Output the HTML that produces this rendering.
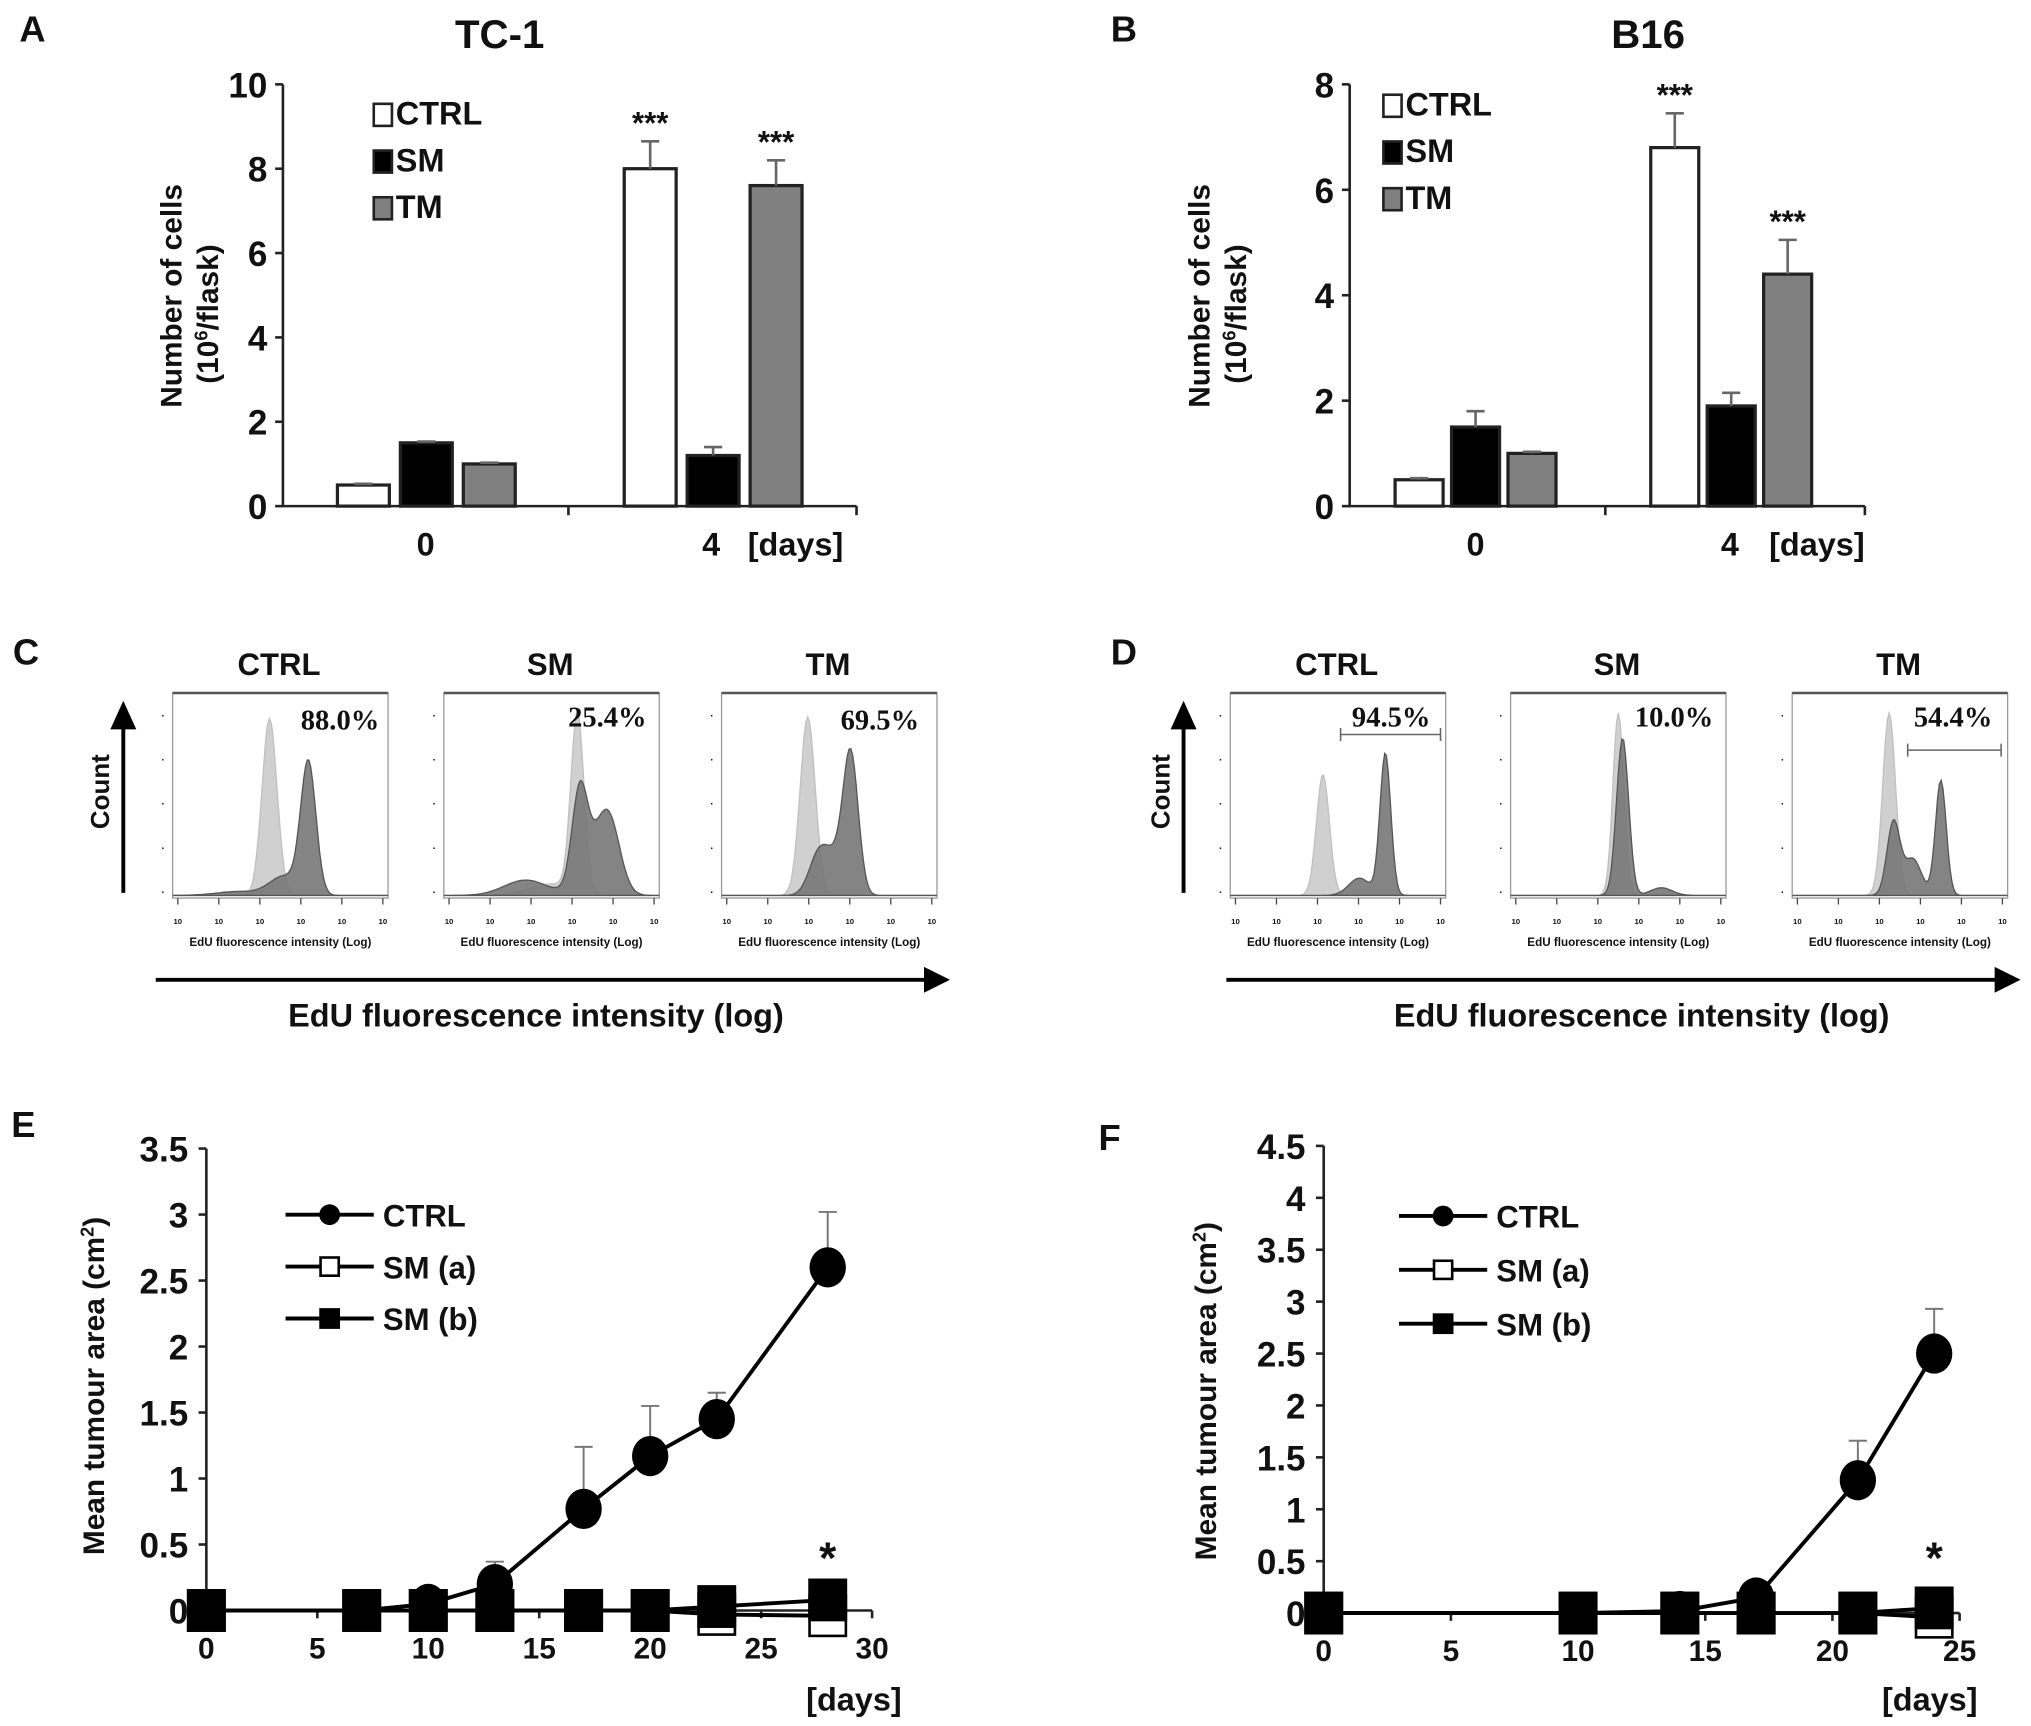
<!DOCTYPE html>
<html><head><meta charset="utf-8"><style>
html,body{margin:0;padding:0;background:#fff}
svg{display:block}
text{font-family:"Liberation Sans",sans-serif;font-weight:bold;fill:#111}
</style></head><body>
<svg id="fig" width="2031" height="1726" viewBox="0 0 1565 1330" xmlns="http://www.w3.org/2000/svg">
<rect width="1565" height="1330" fill="#fff"/>
</svg>
<script>
// ---- data ----
const barGroups = ["0", "4"];
const barSeries = ["CTRL", "SM", "TM"];
const tc1Ctrl = [0.5, 8.0];
const tc1Sm = [1.5, 1.2];
const tc1Tm = [1.0, 7.6];
const tc1CtrlErr = [0.03, 0.65];
const tc1SmErr = [0.03, 0.2];
const tc1TmErr = [0.03, 0.6];
const tc1Ticks = [0, 2, 4, 6, 8, 10];
const b16Ctrl = [0.5, 6.8];
const b16Sm = [1.5, 1.9];
const b16Tm = [1.0, 4.4];
const b16CtrlErr = [0.03, 0.65];
const b16SmErr = [0.3, 0.25];
const b16TmErr = [0.03, 0.65];
const b16Ticks = [0, 2, 4, 6, 8];

const eDays = [0, 7, 10, 13, 17, 20, 23, 28];
const eCtrl = [0, 0, 0.05, 0.2, 0.77, 1.17, 1.45, 2.6];
const eCtrlErr = [0, 0, 0, 0.17, 0.47, 0.38, 0.2, 0.42];
const eSmA = [0, 0, 0, 0, 0, 0, -0.03, -0.04];
const eSmB = [0, 0, 0, 0, 0, 0, 0.03, 0.08];
const eSmBErr = [0, 0, 0, 0, 0, 0, 0, 0.06];
const eYTicks = [0, 0.5, 1, 1.5, 2, 2.5, 3, 3.5];
const eXTicks = [0, 5, 10, 15, 20, 25, 30];

const fDays = [0, 10, 14, 17, 21, 24];
const fCtrl = [0, 0, 0.02, 0.15, 1.28, 2.5];
const fCtrlErr = [0, 0, 0, 0, 0.38, 0.43];
const fSmA = [0, 0, 0, 0, 0, -0.04];
const fSmB = [0, 0, 0, 0, 0, 0.05];
const fYTicks = [0, 0.5, 1, 1.5, 2, 2.5, 3, 3.5, 4, 4.5];
const fXTicks = [0, 5, 10, 15, 20, 25];

// flow histogram components: [centre fraction, height fraction, width fraction]
const cCtrlLight = [[0.45, 0.92, 0.035]];
const cCtrlDark = [[0.63, 0.68, 0.035], [0.52, 0.1, 0.07], [0.3, 0.02, 0.1]];
const cSmLight = [[0.62, 0.93, 0.03], [0.5, 0.06, 0.1]];
const cSmDark = [[0.63, 0.45, 0.035], [0.77, 0.3, 0.05], [0.7, 0.22, 0.07], [0.38, 0.08, 0.1]];
const cTmLight = [[0.4, 0.93, 0.035]];
const cTmDark = [[0.6, 0.7, 0.035], [0.45, 0.2, 0.045], [0.53, 0.17, 0.05]];
const dCtrlLight = [[0.43, 0.63, 0.03]];
const dCtrlDark = [[0.72, 0.74, 0.025], [0.6, 0.09, 0.05]];
const dSmLight = [[0.5, 0.95, 0.025]];
const dSmDark = [[0.52, 0.82, 0.028], [0.7, 0.04, 0.05]];
const dTmLight = [[0.45, 0.95, 0.03]];
const dTmDark = [[0.47, 0.38, 0.03], [0.56, 0.19, 0.04], [0.69, 0.6, 0.025]];
const cPct = ["88.0%", "25.4%", "69.5%"];
const dPct = ["94.5%", "10.0%", "54.4%"];
const flowTitles = ["CTRL", "SM", "TM"];

// ---- helpers ----
const NS = "http://www.w3.org/2000/svg";
const svg = document.getElementById("fig");
function mk(tag, attrs, parent) {
  const e = document.createElementNS(NS, tag);
  for (const k in attrs) e.setAttribute(k, attrs[k]);
  (parent || svg).appendChild(e);
  return e;
}
function txt(s, x, y, size, anchor, parent, extra) {
  const e = mk("text", Object.assign({x: x, y: y, "font-size": size, "text-anchor": anchor || "middle"}, extra || {}), parent);
  e.textContent = s;
  return e;
}

[["A", 25, 32], ["B", 866, 32], ["C", 20, 512], ["D", 866, 512], ["E", 18, 876], ["F", 855, 886]].forEach(p => {
  const t = txt(p[0], p[1], p[2], 28, "middle");
  
  
});

// ---- bar charts ----
function barChart(cfg) {
  const g = mk("g", {});
  
  
  const y = v => cfg.y0 - (v / cfg.ymax) * (cfg.y0 - cfg.y1);
  const t = txt(cfg.title, cfg.titleX, 37, 31, "middle", g);
  
  
  const ax = mk("path", {d: `M${cfg.ax} ${cfg.y1}V${cfg.y0}H${cfg.xEnd}`, stroke: "#222", "stroke-width": 2, fill: "none"}, g);
  
  
  cfg.ticks.forEach(v => {
    mk("line", {x1: cfg.ax - 6, x2: cfg.ax, y1: y(v), y2: y(v), stroke: "#222", "stroke-width": 2}, g);
    const l = txt(String(v), cfg.ax - 12, y(v) + 10, 27, "end", g);
    
    
  });
  [cfg.midTick, cfg.xEnd].forEach(x => mk("line", {x1: x, x2: x, y1: cfg.y0, y2: cfg.y0 + 7, stroke: "#222", "stroke-width": 2}, g));
  const yl = mk("g", {transform: `translate(${cfg.ylX},228) rotate(-90)`}, g);
  
  
  txt("Number of cells", 0, 0, 23, "middle", yl);
  const t2 = txt("(10", -14, 28, 23, "middle", yl);
  const sp = mk("tspan", {"font-size": 14, dy: -8}, t2); sp.textContent = "6";
  const sp2 = mk("tspan", {dy: 8}, t2); sp2.textContent = "/flask)";
  const fills = ["#fff", "#000", "#808080"];
  const vals = [cfg.ctrl, cfg.sm, cfg.tm];
  const errs = [cfg.ctrlErr, cfg.smErr, cfg.tmErr];
  barGroups.forEach((grp, gi) => {
    const gl = txt(grp, cfg.groupX[gi], cfg.y0 + 38, 25, "middle", g);
    
    
    barSeries.forEach((s, si) => {
      const x = cfg.barX[gi] + si * cfg.step;
      const v = vals[si][gi];
      const r = mk("rect", {x: x, y: y(v), width: cfg.bw, height: cfg.y0 - y(v), fill: fills[si], stroke: "#222", "stroke-width": 2.5}, g);
      
      
      const e = errs[si][gi];
      const cx = x + cfg.bw / 2;
      mk("path", {d: `M${cx} ${y(v)}V${y(v + e)}M${cx - 7} ${y(v + e)}H${cx + 7}`, stroke: "#666", "stroke-width": 2}, g);
      if (gi === 1 && si !== 1) {
        const st = txt("***", cx, y(v + e) - 6, 24, "middle", g, {"font-weight": "normal"});
        
        
      }
    });
  });
  const dl = txt("[days]", cfg.daysX, cfg.y0 + 38, 25, "middle", g);
  
  
  barSeries.forEach((s, si) => {
    const ly = cfg.legY + si * 36;
    const lg = mk("g", {}, g);
    
    
    mk("rect", {x: cfg.legX, y: ly - 15, width: 14, height: 17, fill: fills[si], stroke: "#222", "stroke-width": 2}, lg);
    txt(s, cfg.legX + 17, ly + 1, 25, "start", lg);
  });
}
barChart({name: "chart-a-tc1", title: "TC-1", titleX: 385, ax: 218, y0: 390, y1: 65, ymax: 10, xEnd: 660, midTick: 438,
  ticks: tc1Ticks, ctrl: tc1Ctrl, sm: tc1Sm, tm: tc1Tm, ctrlErr: tc1CtrlErr, smErr: tc1SmErr, tmErr: tc1TmErr,
  barX: [260, 481], step: 48.5, bw: 40, groupX: [328, 548], daysX: 613, ylX: 140, legX: 288, legY: 95});
barChart({name: "chart-b-b16", title: "B16", titleX: 1270, ax: 1040, y0: 390, y1: 65, ymax: 8, xEnd: 1437, midTick: 1237,
  ticks: b16Ticks, ctrl: b16Ctrl, sm: b16Sm, tm: b16Tm, ctrlErr: b16CtrlErr, smErr: b16SmErr, tmErr: b16TmErr,
  barX: [1075, 1272], step: 43.5, bw: 37, groupX: [1137, 1333], daysX: 1400, ylX: 932, legX: 1066, legY: 88});

// ---- flow histograms ----
function curve(comps, x0, w, yb, h) {
  let d = `M${x0} ${yb}`;
  for (let i = 0; i <= 120; i++) {
    const f = i / 120;
    let v = 0;
    comps.forEach(c => { v += c[1] * Math.exp(-Math.pow((f - c[0]) / c[2], 2) / 2); });
    d += `L${(x0 + f * w).toFixed(1)} ${(yb - Math.min(v, 1) * h).toFixed(1)}`;
  }
  return d + `L${x0 + w} ${yb}Z`;
}
function flowRow(cfg) {
  const g = mk("g", {});
  
  
  cfg.boxes.forEach((bx, i) => {
    const pg = mk("g", {}, g);
    
    
    const tt = txt(flowTitles[i], bx + 82, 520, 24, "middle", pg);
    
    
    const top = 534, bot = 692, w = 166;
    mk("rect", {x: bx, y: top, width: w, height: bot - top, fill: "#fff", stroke: "#999", "stroke-width": 1}, pg);
    mk("line", {x1: bx, x2: bx + w, y1: top, y2: top, stroke: "#555", "stroke-width": 2}, pg);
    const pl = mk("path", {d: curve(cfg.light[i], bx, w, bot - 2, bot - top - 10), fill: "#d0d0d0", stroke: "#c0c0c0", "stroke-width": 1}, pg);
    
    
    const pd = mk("path", {d: curve(cfg.dark[i], bx, w, bot - 2, bot - top - 10), fill: "#777", "fill-opacity": 0.9, stroke: "#555", "stroke-width": 1}, pg);
    
    
    for (let k = 0; k < 6; k++) {
      const tx = bx + 4 + k * (w - 8) / 5;
      mk("line", {x1: tx, x2: tx, y1: bot, y2: bot + 5, stroke: "#444", "stroke-width": 1}, pg);
      txt("10", tx, bot + 20, 6, "middle", pg);
    }
    for (let k = 0; k < 5; k++) txt("·", bx - 6, bot - 2 - k * 34, 8, "end", pg);
    const xl = txt("EdU fluorescence intensity (Log)", bx + w / 2, bot + 37, 9, "middle", pg, {"font-family": "Liberation Serif"});
    
    
    const p = cfg.pct[i];
    const pt = txt(p[0], p[1], p[2], 22, "middle", pg, {style: "font-family:'Liberation Serif',serif"});
    
    
    if (p[3]) mk("path", {d: `M${p[3]} ${p[5]}H${p[4]}M${p[3]} ${p[5] - 5}v10M${p[4]} ${p[5] - 5}v10`, stroke: "#666", "stroke-width": 1.2}, pg);
  });
  const ca = mk("g", {}, g);
  
  
  mk("line", {x1: cfg.cx, x2: cfg.cx, y1: 688, y2: 560, stroke: "#000", "stroke-width": 3}, ca);
  mk("path", {d: `M${cfg.cx - 10} 562L${cfg.cx} 540L${cfg.cx + 10} 562Z`, fill: "#000"}, ca);
  const cl = mk("g", {transform: `translate(${cfg.cx - 11},610) rotate(-90)`}, ca);
  txt("Count", 0, 0, 20, "middle", cl);
  const ha = mk("g", {}, g);
  
  
  mk("line", {x1: cfg.ax0, x2: cfg.ax1 - 16, y1: 755, y2: 755, stroke: "#000", "stroke-width": 3}, ha);
  mk("path", {d: `M${cfg.ax1 - 20} 745L${cfg.ax1} 755L${cfg.ax1 - 20} 765Z`, fill: "#000"}, ha);
  const hl = txt("EdU fluorescence intensity (log)", cfg.labelX, 791, 25, "middle", ha);
  
  
}
flowRow({name: "panel-c-flow", boxes: [133, 342, 556], light: [cCtrlLight, cSmLight, cTmLight], dark: [cCtrlDark, cSmDark, cTmDark],
  pct: [[cPct[0], 262, 562], [cPct[1], 468, 560], [cPct[2], 678, 562]], cx: 95, ax0: 120, ax1: 732, labelX: 413});
flowRow({name: "panel-d-flow", boxes: [948, 1164, 1381], light: [dCtrlLight, dSmLight, dTmLight], dark: [dCtrlDark, dSmDark, dTmDark],
  pct: [[dPct[0], 1072, 560, 1033, 1110, 566], [dPct[1], 1290, 560], [dPct[2], 1505, 560, 1470, 1542, 578]], cx: 912, ax0: 945, ax1: 1557, labelX: 1265});

// ---- line charts ----
function lineChart(cfg) {
  const g = mk("g", {});
  
  
  const x = d => cfg.x0 + d * cfg.xs;
  const y = v => cfg.y0 - v * cfg.ys;
  const yMax = cfg.yTicks[cfg.yTicks.length - 1];
  const xMax = cfg.xTicks[cfg.xTicks.length - 1];
  const ax = mk("path", {d: `M${x(0)} ${y(yMax)}V${y(0)}H${x(xMax)}`, stroke: "#222", "stroke-width": 2, fill: "none"}, g);
  
  
  cfg.yTicks.forEach(v => {
    mk("line", {x1: x(0) - 6, x2: x(0), y1: y(v), y2: y(v), stroke: "#222", "stroke-width": 2}, g);
    const l = txt(String(v), x(0) - 14, y(v) + 10, 27, "end", g);
    
    
  });
  cfg.xTicks.forEach(v => {
    mk("line", {x1: x(v), x2: x(v), y1: y(0), y2: y(0) + 6, stroke: "#222", "stroke-width": 2}, g);
    const l = txt(String(v), x(v), y(0) + 37, 23, "middle", g);
    
    
  });
  const dl = txt("[days]", cfg.daysX, 1318, 25, "middle", g);
  
  
  const yl = mk("g", {transform: `translate(${cfg.ylX},${cfg.ylY}) rotate(-90)`}, g);
  
  
  const t = txt("Mean tumour area (cm", 0, 0, 23, "middle", yl);
  const s1 = mk("tspan", {"font-size": 14, dy: -8}, t); s1.textContent = "2";
  const s2 = mk("tspan", {dy: 8}, t); s2.textContent = ")";
  cfg.days.forEach((d, i) => {
    if (cfg.ctrlErr[i] > 0) mk("path", {d: `M${x(d)} ${y(cfg.ctrl[i])}V${y(cfg.ctrl[i] + cfg.ctrlErr[i])}M${x(d) - 7} ${y(cfg.ctrl[i] + cfg.ctrlErr[i])}H${x(d) + 7}`, stroke: "#777", "stroke-width": 1.5}, g);
    if (cfg.smBErr && cfg.smBErr[i] > 0) mk("path", {d: `M${x(d)} ${y(cfg.smB[i])}V${y(cfg.smB[i] + cfg.smBErr[i])}M${x(d) - 7} ${y(cfg.smB[i] + cfg.smBErr[i])}H${x(d) + 7}`, stroke: "#777", "stroke-width": 1.5}, g);
  });
  const series = [["sm-a", cfg.smA, "sqo"], ["ctrl", cfg.ctrl, "circle"], ["sm-b", cfg.smB, "sq"]];
  series.forEach(s => {
    const sg = mk("g", {}, g);
    
    
    mk("polyline", {points: cfg.days.map((d, i) => `${x(d)},${y(s[1][i])}`).join(" "), fill: "none", stroke: "#000", "stroke-width": 3}, sg);
    cfg.days.forEach((d, i) => {
      let m;
      if (s[2] === "circle") m = mk("ellipse", {cx: x(d), cy: y(s[1][i]), rx: 14, ry: 15.5, fill: "#000"}, sg);
      else m = mk("rect", {x: x(d) - 14, y: y(s[1][i]) - 15.5, width: 28, height: 31, fill: s[2] === "sq" ? "#000" : "#fff", stroke: "#000", "stroke-width": 2}, sg);
      
      
    });
  });
  const last = cfg.days[cfg.days.length - 1];
  const st = txt("*", x(last), 1212, 34, "middle", g);
  
  
  const leg = [["CTRL", "circle", "#000"], ["SM (a)", "sq", "#fff"], ["SM (b)", "sq", "#000"]];
  leg.forEach((l, i) => {
    const ly = cfg.legY + i * cfg.legStep;
    const lg = mk("g", {}, g);
    
    
    mk("line", {x1: cfg.legX, x2: cfg.legX + 68, y1: ly, y2: ly, stroke: "#000", "stroke-width": 3}, lg);
    if (l[1] === "circle") mk("circle", {cx: cfg.legX + 34, cy: ly, r: 8, fill: "#000"}, lg);
    else mk("rect", {x: cfg.legX + 27, y: ly - 7, width: 14, height: 14, fill: l[2], stroke: "#000", "stroke-width": 2}, lg);
    txt(l[0], cfg.legX + 75, ly + 9, 24, "start", lg);
  });
}
lineChart({name: "chart-e-tumour-tc1", x0: 159, xs: 17.1, y0: 1241, ys: 101.7, yTicks: eYTicks, xTicks: eXTicks,
  days: eDays, ctrl: eCtrl, ctrlErr: eCtrlErr, smA: eSmA, smB: eSmB, smBErr: eSmBErr, daysX: 658, ylX: 80, ylY: 1068,
  legX: 220, legY: 936, legStep: 40});
lineChart({name: "chart-f-tumour-b16", x0: 1020, xs: 19.6, y0: 1243, ys: 80, yTicks: fYTicks, xTicks: fXTicks,
  days: fDays, ctrl: fCtrl, ctrlErr: fCtrlErr, smA: fSmA, smB: fSmB, smBErr: null, daysX: 1487, ylX: 937, ylY: 1072,
  legX: 1078, legY: 937, legStep: 41.5});
</script>
</body></html>
